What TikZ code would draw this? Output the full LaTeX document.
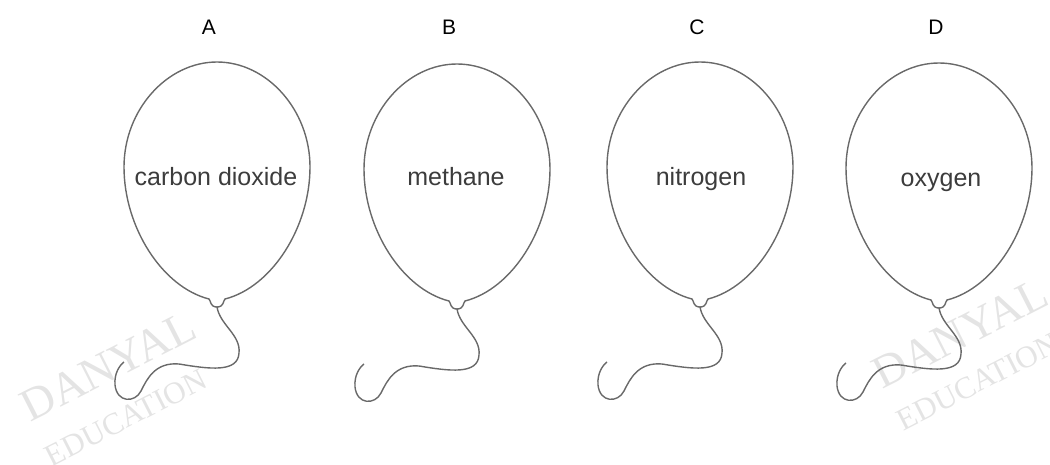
\documentclass[tikz,border=0pt]{standalone}
\usepackage{fontspec}
\setmainfont{Liberation Sans}
\newfontfamily\markfont{Liberation Serif}

\definecolor{lineGrey}{RGB}{105,105,105}
\definecolor{textGrey}{RGB}{60,60,60}
\definecolor{markGrey}{RGB}{228,228,228}

\tikzset{
  balloon/.style={draw=lineGrey, line width=0.7pt},
  letter/.style={inner sep=0.75pt, text=black, font=\fontsize{10.5}{12}\selectfont},
  gas/.style={anchor=base, inner sep=0.75pt, text=textGrey, font=\fontsize{12.5}{15}\selectfont},
  wmark/.style={inner sep=0pt, text=markGrey, rotate=27}
}

\begin{document}
\begin{tikzpicture}[x=0.5pt,y=0.5pt,yscale=-1,xscale=1]
\useasboundingbox (0,0) rectangle (1050,465);
\clip (0,0) rectangle (1050,465);

% Stamp text, behind everything
\node (markLa) [wmark, font=\markfont\fontsize{23}{23}\selectfont] at (108,366) {DANYAL};
\node (markLb) [wmark, font=\markfont\fontsize{15.5}{16}\selectfont] at (126,418) {EDUCATION};
\node (markRa) [wmark, font=\markfont\fontsize{23}{23}\selectfont] at (960,333) {DANYAL};
\node (markRb) [wmark, font=\markfont\fontsize{15.5}{16}\selectfont] at (978,382) {EDUCATION};

%Shape: Balloon A
\draw [balloon, shift={(217,62)}] (0,0) .. controls (50,0) and (93,48) .. (93,105) .. controls (93,165) and (55,225) .. (8,237) .. controls (6,239) and (7,245) .. (0,245) .. controls (-7,245) and (-6,239) .. (-8,237) .. controls (-55,225) and (-93,165) .. (-93,105) .. controls (-93,48) and (-50,0) .. (0,0) -- cycle ;
%Shape: String A
\draw [balloon, shift={(217,307)}] (0,0) .. controls (3,18) and (24,28) .. (22,46) .. controls (21,66) and (-8,62) .. (-38,57) .. controls (-62,55) and (-70,72) .. (-76,84) .. controls (-82,96) and (-100,96) .. (-102,78) .. controls (-103,66) and (-97,58) .. (-93,55) ;

%Shape: Balloon B
\draw [balloon, shift={(457,64)}] (0,0) .. controls (50,0) and (93,48) .. (93,105) .. controls (93,165) and (55,225) .. (8,237) .. controls (6,239) and (7,245) .. (0,245) .. controls (-7,245) and (-6,239) .. (-8,237) .. controls (-55,225) and (-93,165) .. (-93,105) .. controls (-93,48) and (-50,0) .. (0,0) -- cycle ;
%Shape: String B
\draw [balloon, shift={(457,309)}] (0,0) .. controls (3,18) and (24,28) .. (22,46) .. controls (21,66) and (-8,62) .. (-38,57) .. controls (-62,55) and (-70,72) .. (-76,84) .. controls (-82,96) and (-100,96) .. (-102,78) .. controls (-103,66) and (-97,58) .. (-93,55) ;

%Shape: Balloon C
\draw [balloon, shift={(700,62)}] (0,0) .. controls (50,0) and (93,48) .. (93,105) .. controls (93,165) and (55,225) .. (8,237) .. controls (6,239) and (7,245) .. (0,245) .. controls (-7,245) and (-6,239) .. (-8,237) .. controls (-55,225) and (-93,165) .. (-93,105) .. controls (-93,48) and (-50,0) .. (0,0) -- cycle ;
%Shape: String C
\draw [balloon, shift={(700,307)}] (0,0) .. controls (3,18) and (24,28) .. (22,46) .. controls (21,66) and (-8,62) .. (-38,57) .. controls (-62,55) and (-70,72) .. (-76,84) .. controls (-82,96) and (-100,96) .. (-102,78) .. controls (-103,66) and (-97,58) .. (-93,55) ;

%Shape: Balloon D
\draw [balloon, shift={(939,63)}] (0,0) .. controls (50,0) and (93,48) .. (93,105) .. controls (93,165) and (55,225) .. (8,237) .. controls (6,239) and (7,245) .. (0,245) .. controls (-7,245) and (-6,239) .. (-8,237) .. controls (-55,225) and (-93,165) .. (-93,105) .. controls (-93,48) and (-50,0) .. (0,0) -- cycle ;
%Shape: String D
\draw [balloon, shift={(939,308)}] (0,0) .. controls (3,18) and (24,28) .. (22,46) .. controls (21,66) and (-8,62) .. (-38,57) .. controls (-62,55) and (-70,72) .. (-76,84) .. controls (-82,96) and (-100,96) .. (-102,78) .. controls (-103,66) and (-97,58) .. (-93,55) ;

% Text Node
\node (labA) [letter] at (209,27) {A};
% Text Node
\node (labB) [letter] at (449,27) {B};
% Text Node
\node (labC) [letter] at (697,27) {C};
% Text Node
\node (labD) [letter] at (936,27) {D};

% Text Node
\node (gasA) [gas] at (216,185) {carbon dioxide};
% Text Node
\node (gasB) [gas] at (456,185) {methane};
% Text Node
\node (gasC) [gas] at (701,185) {nitrogen};
% Text Node
\node (gasD) [gas] at (941,186) {oxygen};

\end{tikzpicture}
\end{document}
